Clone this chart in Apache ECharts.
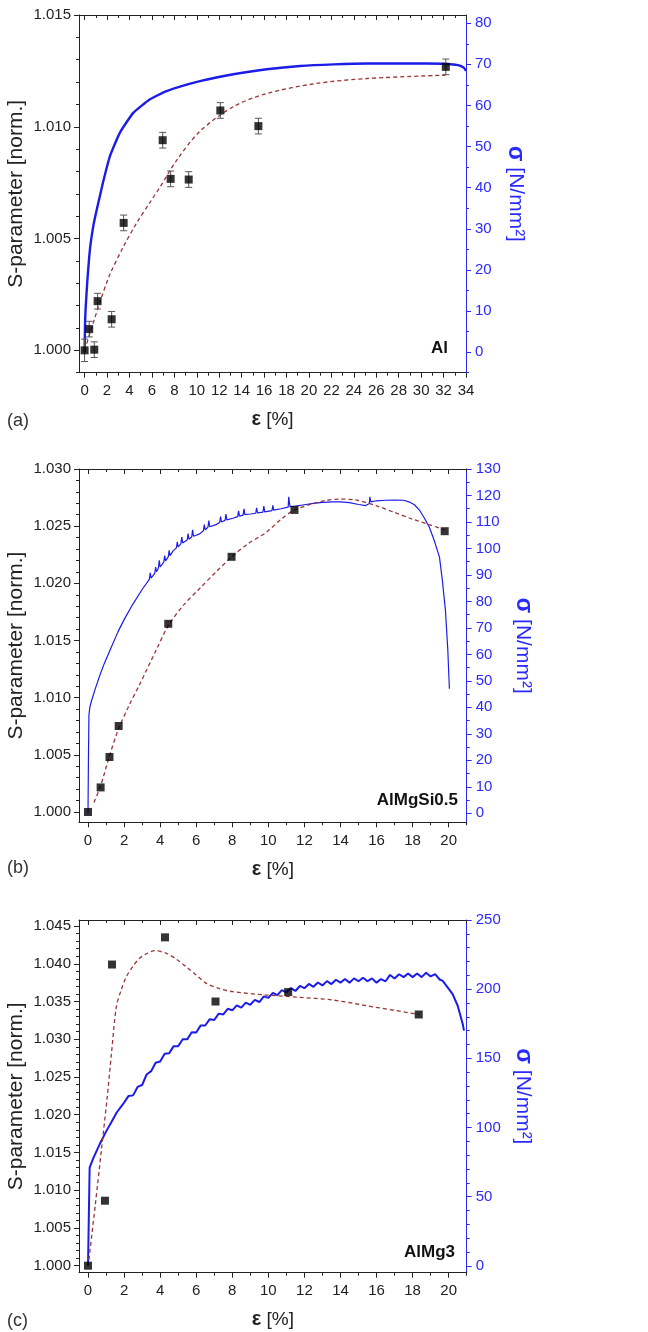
<!DOCTYPE html>
<html><head><meta charset="utf-8">
<script src="https://cdn.jsdelivr.net/npm/echarts@6/dist/echarts.min.js"></script>
<style>html,body{margin:0;padding:0;background:#fff}#c{width:648px;height:1332px}</style>
</head><body><div id="c"></div>
<script>
// ---------- Panel (a) Al ----------
const aStrain = [0, 0.41, 0.86, 1.16, 2.41, 3.48, 6.96, 7.67, 9.28, 12.1, 15.49, 32.2];
const aS      = [1.0000, 1.00095, 1.00003, 1.0022, 1.00139, 1.0057, 1.0094, 1.00767, 1.00764, 1.01073, 1.01003, 1.01268];
const aErr    = [0.0005, 0.00035, 0.00035, 0.00035, 0.00035, 0.00035, 0.00035, 0.00035, 0.00035, 0.00035, 0.00035, 0.00035];
const aFitX   = [0, 0.47, 1.36, 2.26, 3.45, 4.64, 5.83, 6.72, 8.2, 10.28, 13.26, 16.24, 20.7, 25.2, 32.2];
const aFitY   = [1.0000, 1.00075, 1.00215, 1.0034, 1.00463, 1.0057, 1.00662, 1.0073, 1.0085, 1.0098, 1.0109, 1.01149, 1.01194, 1.01216, 1.01231];
const aStressX = [0, 0.02, 0.05, 0.1, 0.23, 0.47, 0.77, 1.07, 1.66, 2.26, 3.15, 4.34, 5.83, 7.31, 10.28, 13.26, 16.24, 19.2, 22.2, 25.2, 28.1, 30.5, 32.3, 33.3, 33.8, 34];
const aStressY = [0, 4, 8, 11, 16.8, 24.9, 30.6, 34.5, 41.5, 47.7, 53.4, 58.2, 61.5, 63.5, 65.9, 67.6, 68.8, 69.6, 70, 70.2, 70.2, 70.2, 70.1, 69.8, 69.2, 68.4];
const aXTicks = [0, 2, 4, 6, 8, 10, 12, 14, 16, 18, 20, 22, 24, 26, 28, 30, 32, 34];
const aYTicks = [1.000, 1.005, 1.010, 1.015];
const aRTicks = [0, 10, 20, 30, 40, 50, 60, 70, 80];

// ---------- Panel (b) AlMgSi0.5 ----------
const bStrain = [0, 0.70, 1.19, 1.70, 4.45, 7.96, 11.45, 19.78];
const bS      = [1.0000, 1.00215, 1.00481, 1.00752, 1.01646, 1.02232, 1.02642, 1.02456];
const bFit = [[0.33,1.00084],[0.7,1.0023],[1.19,1.0049],[1.7,1.0073],[2.3,1.0094],[2.86,1.01115],[3.79,1.0142],[4.45,1.0163],[5.3,1.0181],[6.19,1.01955],[7.1,1.0210],[7.96,1.0223],[8.9,1.0235],[9.88,1.02445],[10.7,1.0256],[11.45,1.02642],[12.5,1.02698],[13.2,1.02725],[13.95,1.02736],[14.8,1.0273],[16,1.02678],[17,1.0262],[18,1.02561],[19,1.0251],[19.78,1.02468]];
const bStress = [[0,0],[0.02,18],[0.05,37],[0.1,40],[0.19,42.4],[0.4,47],[0.65,52],[0.9,56.5],[1.2,61.3],[1.66,68.5],[2.03,73.5],[2.49,79],[3.0,84.5],[3.4,88.3],[3.45,90.8],[3.5,88.8],[3.7,90.6],[3.75,93],[3.8,91.2],[3.9,92.5],[3.95,95.5],[4.0,93],[4.2,94.8],[4.25,97.3],[4.3,95.3],[4.45,96.8],[4.5,99.3],[4.55,97.3],[4.71,99],[4.9,100.2],[4.95,102.5],[5.0,100.6],[5.15,101.7],[5.2,104.3],[5.25,102.1],[5.5,103.2],[5.55,105.6],[5.6,103.5],[5.75,104.3],[5.8,107],[5.85,104.6],[6.19,105.5],[6.4,106.7],[6.45,109],[6.5,107],[6.65,108],[6.7,110.5],[6.75,108.2],[7.1,109],[7.3,109.8],[7.35,112],[7.4,110],[7.6,110.6],[7.65,113],[7.7,110.8],[8.03,111.4],[8.3,112],[8.35,114.2],[8.4,112.2],[8.6,112.6],[8.65,115],[8.7,112.8],[9.0,113],[9.3,113.3],[9.35,115.3],[9.4,113.4],[9.7,113.7],[9.75,116],[9.8,113.8],[10.2,114.3],[10.25,116.3],[10.3,114.5],[10.7,115],[11.1,115.6],[11.13,119.5],[11.2,115.8],[11.5,116],[12,116.5],[12.5,117],[13,117.4],[13.57,117.6],[14,117.6],[14.5,117.3],[15,116.6],[15.4,116.2],[15.6,117],[15.63,119.5],[15.68,117.6],[16,118],[16.5,118.2],[17,118.3],[17.5,118.2],[17.8,117.6],[18.1,116.5],[18.38,114.5],[18.65,111.5],[18.93,108],[19.2,103],[19.49,96.7],[19.65,88],[19.82,76.7],[19.95,62],[20.04,47]];
const bXTicks = [0, 2, 4, 6, 8, 10, 12, 14, 16, 18, 20];
const bYTicks = [1.000, 1.005, 1.010, 1.015, 1.020, 1.025, 1.030];
const bRTicks = [0, 10, 20, 30, 40, 50, 60, 70, 80, 90, 100, 110, 120, 130];

// ---------- Panel (c) AlMg3 ----------
const cStrain = [0, 0.94, 1.33, 4.27, 7.07, 11.1, 18.34];
const cS      = [1.0000, 1.00861, 1.0399, 1.0435, 1.0350, 1.03625, 1.03328];
const cFit = [[0.05,1.0008],[0.4,1.008],[0.75,1.0155],[1.05,1.022],[1.3,1.0281],[1.57,1.0343],[1.85,1.0366],[2.13,1.03829],[2.5,1.0397],[2.86,1.04073],[3.3,1.0414],[3.7,1.04173],[4.34,1.04139],[4.9,1.0406],[5.45,1.03961],[6.0,1.0385],[6.56,1.03741],[7.3,1.0367],[8.03,1.0363],[9.88,1.03586],[11.73,1.03556],[13.57,1.0352],[15.42,1.03445],[18.34,1.0333]];
const cStress = [[0,0],[0.09,71],[0.3,78],[0.65,88],[1.0,97],[1.3,104],[1.6,111],[2.0,118],[2.25,122.8],[2.5,123.2],[2.75,129.3],[3.0,130.7],[3.25,138.3],[3.5,140.7],[3.75,146.8],[4.0,147.7],[4.25,153.3],[4.5,153.7],[4.75,158.8],[5.0,158.7],[5.25,163.8],[5.5,163.7],[5.75,168.8],[6.0,168.7],[6.25,173.8],[6.5,173.7],[6.75,178.3],[7.0,177.7],[7.25,182.3],[7.5,181.7],[7.75,185.8],[8.0,184.7],[8.25,188.3],[8.5,186.7],[8.75,190.3],[9.0,188.7],[9.25,192.3],[9.5,190.7],[9.75,194.8],[10.0,193.7],[10.25,197.3],[10.5,195.7],[10.75,199.3],[11.0,197.7],[11.25,200.8],[11.5,198.7],[11.75,202.3],[12.0,200.7],[12.25,203.8],[12.5,201.7],[12.75,204.8],[13.0,202.7],[13.25,205.8],[13.5,203.7],[13.75,206.8],[14.0,204.7],[14.25,207.3],[14.5,204.7],[14.75,207.8],[15.0,205.7],[15.25,208.3],[15.5,205.7],[15.75,207.8],[16.0,204.7],[16.25,207.3],[16.5,205.7],[16.75,210.3],[17.0,207.7],[17.25,210.8],[17.5,208.7],[17.75,211.3],[18.0,208.7],[18.25,211.3],[18.5,208.7],[18.75,211.8],[19.0,209.2],[19.25,210.8],[19.5,207],[19.67,206],[19.9,202],[20.22,196.4],[20.5,188],[20.78,174.8],[20.85,170]];
const cXTicks = [0, 2, 4, 6, 8, 10, 12, 14, 16, 18, 20];
const cYTicks = [1.000, 1.005, 1.010, 1.015, 1.020, 1.025, 1.030, 1.035, 1.040, 1.045];
const cRTicks = [0, 50, 100, 150, 200, 250];

// ---------- build ----------
const chart = echarts.init(document.getElementById('c'), null, {renderer: 'canvas'});
const FONT = '"Liberation Sans", Arial, Helvetica, sans-serif';
const INK = '#222';
const BLUE = '#1c1ce8';
const AXBLUE = '#2a2aff';
const FIT = '#9a3636';
const xAxis = [], yAxis = [], grid = [], series = [], graphic = [];

function steps(a, b, s) {
  const r = [];
  for (let i = Math.ceil(a / s - 1e-9); i * s <= b + 1e-9; i++) r.push(+(i * s).toFixed(6));
  return r;
}
function minors(a, b, s, majors) {
  return steps(a, b, s).filter(v => !majors.some(m => Math.abs(m - v) < 1e-9));
}

function panel(p) {
  const g = grid.length;
  grid.push({left: p.left, top: p.top, width: p.width, height: p.height, containLabel: false, outerBoundsMode: 'none'});
  const bx = {type: 'value', gridIndex: g, min: p.xMin, max: p.xMax, splitLine: {show: false}};
  const xi = xAxis.length;
  const xMin = minors(p.xMin, p.xMax, p.xMinor, p.xTicks);
  const lineK = {show: true, onZero: false, lineStyle: {color: INK, width: 1}};
  xAxis.push(Object.assign({}, bx, {
    position: 'bottom', axisLine: lineK,
    axisTick: {show: true, customValues: p.xTicks, length: 5, lineStyle: {color: INK}},
    axisLabel: {show: true, customValues: p.xTicks, fontSize: 15, color: INK, margin: 11, fontFamily: FONT},
    name: '{e|ε} [%]', nameLocation: 'middle', nameGap: 37,
    nameTextStyle: {fontSize: 19, color: INK, fontFamily: FONT,
      rich: {e: {fontSize: 20, fontWeight: 'bold', color: INK, fontFamily: FONT}}}
  }));
  xAxis.push(Object.assign({}, bx, {
    position: 'bottom', axisLine: {show: false, onZero: false},
    axisTick: {show: true, customValues: xMin, length: 3, lineStyle: {color: INK}},
    axisLabel: {show: false}
  }));
  xAxis.push(Object.assign({}, bx, {
    position: 'top', axisLine: lineK,
    axisTick: {show: true, inside: true, customValues: p.xTicks, length: 5, lineStyle: {color: INK}},
    axisLabel: {show: false}
  }));
  xAxis.push(Object.assign({}, bx, {
    position: 'top', axisLine: {show: false, onZero: false},
    axisTick: {show: true, inside: true, customValues: xMin, length: 3, lineStyle: {color: INK}},
    axisLabel: {show: false}
  }));

  const yl = yAxis.length;
  const by = {type: 'value', gridIndex: g, min: p.yMin, max: p.yMax, splitLine: {show: false}};
  const yMinor = minors(p.yMin, p.yMax, p.yMinor, p.yTicks);
  yAxis.push(Object.assign({}, by, {
    position: 'left', axisLine: lineK,
    axisTick: {show: true, customValues: p.yTicks, length: 5, lineStyle: {color: INK}},
    axisLabel: {show: true, customValues: p.yTicks, fontSize: 15, color: INK, margin: 8, fontFamily: FONT,
      formatter: v => v.toFixed(3)},
    name: 'S-parameter [norm.]', nameLocation: 'middle', nameGap: 52, nameMoveOverlap: false,
    nameTextStyle: {fontSize: 21, color: INK, fontFamily: FONT}
  }));
  yAxis.push(Object.assign({}, by, {
    position: 'left', axisLine: {show: false, onZero: false},
    axisTick: {show: true, customValues: yMinor, length: 3, lineStyle: {color: INK}},
    axisLabel: {show: false}
  }));
  const yr = yAxis.length;
  const br = {type: 'value', gridIndex: g, min: p.rMin, max: p.rMax, splitLine: {show: false}};
  const rMinor = minors(p.rMin, p.rMax, p.rMinor, p.rTicks);
  yAxis.push(Object.assign({}, br, {
    position: 'right', axisLine: {show: true, onZero: false, lineStyle: {color: AXBLUE, width: 1}},
    axisTick: {show: true, customValues: p.rTicks, length: 5, lineStyle: {color: AXBLUE}},
    axisLabel: {show: true, customValues: p.rTicks, fontSize: 15, color: AXBLUE, margin: 9, fontFamily: FONT},
    name: '{s|σ} [N/mm²]', nameLocation: 'middle', nameGap: p.rGap, nameRotate: -90,
    nameTextStyle: {fontSize: 21, color: AXBLUE, fontFamily: FONT,
      rich: {s: {fontSize: 23, fontWeight: 'bold', color: AXBLUE, fontFamily: FONT}}}
  }));
  yAxis.push(Object.assign({}, br, {
    position: 'right', axisLine: {show: false, onZero: false},
    axisTick: {show: true, customValues: rMinor, length: 3, lineStyle: {color: AXBLUE}},
    axisLabel: {show: false}
  }));

  series.push({
    type: 'line', xAxisIndex: xi, yAxisIndex: yr, data: p.stress, showSymbol: false,
    smooth: p.stressSmooth,
    lineStyle: {color: BLUE, width: p.stressWidth}, z: 2, animation: false
  });
  series.push({
    type: 'line', xAxisIndex: xi, yAxisIndex: yl, data: p.fit, showSymbol: false, smooth: 0.3,
    lineStyle: {color: FIT, width: 1.3, type: [4, 3]}, z: 3, animation: false
  });
  if (p.err) {
    series.push({
      type: 'custom', xAxisIndex: xi, yAxisIndex: yl, z: 4, animation: false,
      data: p.x.map((v, i) => [v, p.y[i], p.err[i]]),
      encode: {x: 0, y: 1},
      renderItem: function (params, api) {
        const x = api.value(0), y = api.value(1), e = api.value(2);
        const lo = api.coord([x, y - e]), hi = api.coord([x, y + e]);
        const st = {stroke: '#555', lineWidth: 1};
        return {type: 'group', children: [
          {type: 'line', shape: {x1: lo[0], y1: lo[1], x2: hi[0], y2: hi[1]}, style: st},
          {type: 'line', shape: {x1: lo[0] - 3.5, y1: lo[1], x2: lo[0] + 3.5, y2: lo[1]}, style: st},
          {type: 'line', shape: {x1: hi[0] - 3.5, y1: hi[1], x2: hi[0] + 3.5, y2: hi[1]}, style: st}
        ]};
      }
    });
  }
  series.push({
    type: 'scatter', xAxisIndex: xi, yAxisIndex: yl,
    data: p.x.map((v, i) => [v, p.y[i]]),
    symbol: 'rect', symbolSize: 8, itemStyle: {color: '#000'}, z: 5, animation: false
  });

  graphic.push({type: 'text', x: p.labelX, y: p.labelY,
    style: {text: p.label, fontSize: 17, fontWeight: 'bold', fontFamily: FONT, fill: '#111', align: 'right', verticalAlign: 'middle'}});
  graphic.push({type: 'text', x: 7, y: p.letterY,
    style: {text: p.letter, fontSize: 18, fontFamily: FONT, fill: '#333', align: 'left', verticalAlign: 'middle'}});
}

panel({
  left: 79, top: 15, width: 387, height: 357.7,
  xMin: -0.5, xMax: 34, xTicks: aXTicks, xMinor: 1,
  yMin: 0.999, yMax: 1.015, yTicks: aYTicks, yMinor: 0.001,
  rMin: -5, rMax: 82, rTicks: aRTicks, rMinor: 5, rGap: 38,
  stress: aStressX.map((v, i) => [v, aStressY[i]]), stressWidth: 2.4, stressSmooth: 0.15,
  fit: aFitX.map((v, i) => [v, aFitY[i]]),
  x: aStrain, y: aS, err: aErr,
  label: 'Al', labelX: 448, labelY: 348, letter: '(a)', letterY: 421
});
panel({
  left: 79, top: 469, width: 387.7, height: 353.3,
  xMin: -0.5, xMax: 21, xTicks: bXTicks, xMinor: 1,
  yMin: 0.9991, yMax: 1.030, yTicks: bYTicks, yMinor: 0.001,
  rMin: -3.4, rMax: 130, rTicks: bRTicks, rMinor: 5, rGap: 43,
  stress: bStress, stressWidth: 1.2, stressSmooth: false,
  fit: bFit, x: bStrain, y: bS, err: null,
  label: 'AlMgSi0.5', labelX: 458, labelY: 800, letter: '(b)', letterY: 868
});
panel({
  left: 79, top: 920, width: 387.7, height: 352.7,
  xMin: -0.5, xMax: 21, xTicks: cXTicks, xMinor: 1,
  yMin: 0.99907, yMax: 1.0458, yTicks: cYTicks, yMinor: 0.001,
  rMin: -5, rMax: 250, rTicks: cRTicks, rMinor: 10, rGap: 43,
  stress: cStress, stressWidth: 2, stressSmooth: false,
  fit: cFit, x: cStrain, y: cS, err: null,
  label: 'AlMg3', labelX: 455, labelY: 1252, letter: '(c)', letterY: 1321
});

chart.setOption({
  backgroundColor: '#fff',
  animation: false,
  textStyle: {fontFamily: FONT},
  grid: grid, xAxis: xAxis, yAxis: yAxis, series: series, graphic: graphic
});
</script>
</body></html>
